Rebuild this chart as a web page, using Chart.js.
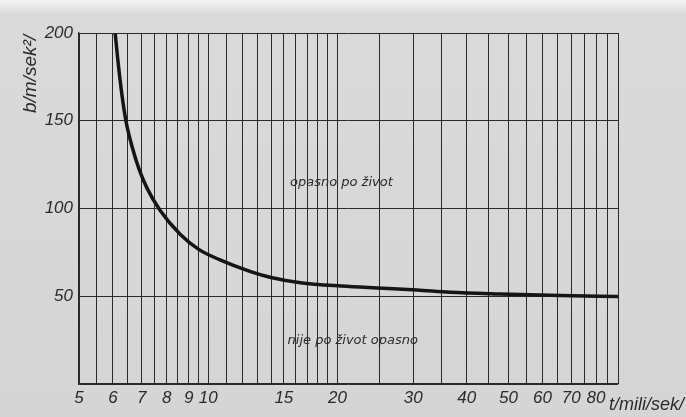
<!DOCTYPE html>
<html>
<head>
<meta charset="utf-8">
<script src="https://cdn.jsdelivr.net/npm/chart.js@4/dist/chart.umd.min.js"></script>
<style>
  html, body { margin: 0; padding: 0; }
  body {
    width: 686px; height: 417px; overflow: hidden;
    background: linear-gradient(to bottom, #f3f3f3 0px, #dadada 14px, #d5d5d5 100%);
  }
  #wrap { position: relative; width: 686px; height: 417px; }
</style>
</head>
<body>
<div id="wrap"><canvas id="myChart" width="686" height="417"></canvas></div>
<script>
// curve: t in ms, b in m/s^2
const curveT = [6.07, 6.15, 6.27, 6.43, 6.65, 6.9, 7.2, 7.72, 8.6, 9.5, 10.65, 12.5, 14, 16.4, 20.4, 25.5, 30.6, 36.6, 47.8, 66, 90];
const curveB = [200, 186, 168, 150, 135, 122.4, 111.6, 99, 85.3, 76.7, 70.7, 64.2, 60.7, 57.7, 55.8, 54.6, 53.6, 52.3, 51.3, 50.4, 49.8];

// grid lines of the log paper and the ones carrying a label
const gridT = [5, 5.5, 6, 6.5, 7, 7.5, 8, 8.5, 9, 9.5, 10, 11, 12, 13, 14, 15, 16, 17, 18, 19, 20,
  25, 30, 35, 40, 45, 50, 55, 60, 65, 70, 75, 80, 85, 90];
const labelT = [5, 6, 7, 8, 9, 10, 15, 20, 30, 40, 50, 60, 70, 80];
const yTicks = [50, 100, 150, 200];

const zoneText = ["opasno po život", "nije po život opasno"];
const zoneT = [15.5, 15.3];
const zoneB = [115, 25];

const ink = "#2a2a2a";
const tickFont = { family: "'Liberation Sans', sans-serif", size: 17, style: "italic" };

const textPlugin = {
  id: "paperText",
  afterDraw(chart) {
    const ctx = chart.ctx;
    const xs = chart.scales.x;
    const ys = chart.scales.y;
    ctx.save();
    ctx.fillStyle = ink;
    ctx.font = "italic 13px 'DejaVu Sans', sans-serif";
    ctx.textBaseline = "middle";
    ctx.textAlign = "left";
    zoneText.forEach((t, i) => {
      ctx.fillText(t, xs.getPixelForValue(zoneT[i]), ys.getPixelForValue(zoneB[i]));
    });
    // axis titles
    ctx.font = "italic 18px 'Liberation Sans', sans-serif";
    ctx.textAlign = "right";
    ctx.fillText("t/mili/sek/", chart.width - 2, 405);
    ctx.translate(31, 74);
    ctx.rotate(-Math.PI / 2);
    ctx.textAlign = "center";
    ctx.font = "italic 19px 'Liberation Sans', sans-serif";
    ctx.fillText("b/m/sek²/", 0, 0);
    ctx.restore();
  },
};

const ctx = document.getElementById("myChart").getContext("2d");
new Chart(ctx, {
  type: "line",
  data: {
    datasets: [
      {
        data: curveT.map((t, i) => ({ x: t, y: curveB[i] })),
        borderColor: "#151515",
        borderWidth: 3.5,
        pointRadius: 0,
        cubicInterpolationMode: "monotone",
        fill: false,
      },
    ],
  },
  options: {
    responsive: false,
    animation: false,
    layout: { padding: { top: 33, right: 68, left: 0, bottom: 0 } },
    plugins: { legend: { display: false }, tooltip: { enabled: false } },
    scales: {
      x: {
        type: "logarithmic",
        min: 5,
        max: 90,
        afterBuildTicks(scale) {
          scale.ticks = gridT.map((v) => ({ value: v }));
        },
        afterFit(scale) {
          scale.height = 33;
        },
        grid: { color: ink, lineWidth: 1, drawTicks: false },
        border: { color: ink, width: 1.2 },
        ticks: {
          autoSkip: false,
          maxRotation: 0,
          padding: 4,
          color: ink,
          font: tickFont,
          callback: (v) => (labelT.includes(v) ? String(v) : ""),
        },
      },
      y: {
        min: 0,
        max: 200,
        afterBuildTicks(scale) {
          scale.ticks = [0].concat(yTicks).map((v) => ({ value: v }));
        },
        afterFit(scale) {
          scale.width = 79;
        },
        grid: { color: ink, lineWidth: 1, drawTicks: false },
        border: { color: ink, width: 1.2 },
        ticks: {
          padding: 6,
          color: ink,
          font: tickFont,
          callback: (v) => (yTicks.includes(v) ? String(v) : ""),
        },
      },
    },
  },
  plugins: [textPlugin],
});
</script>
</body>
</html>
